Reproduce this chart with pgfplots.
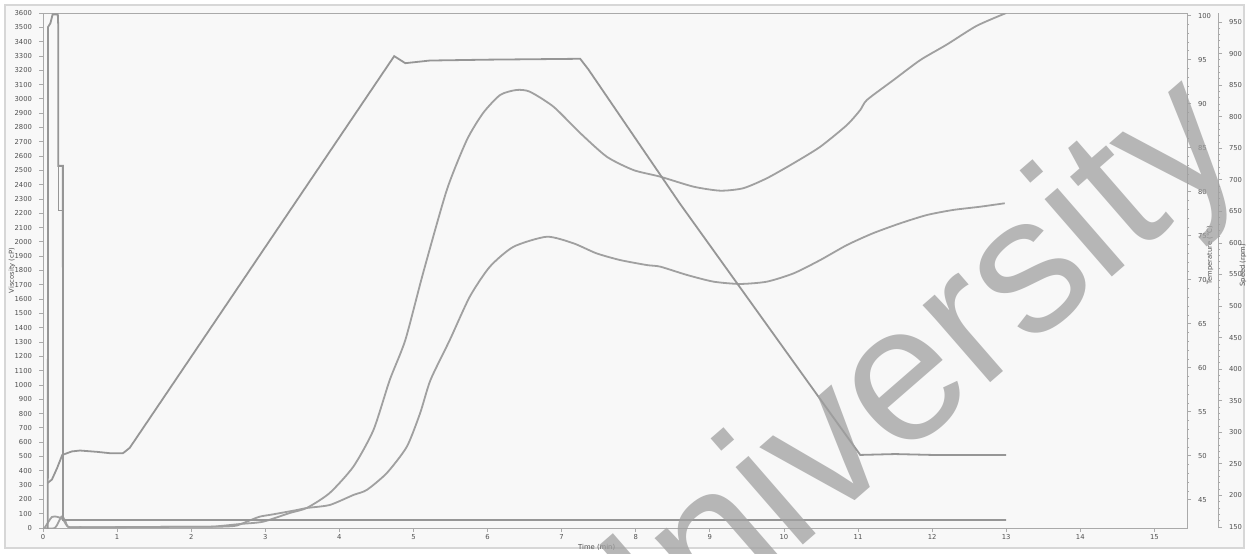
\documentclass[border=0pt]{standalone}
\usepackage{fontspec}
\setmainfont{DejaVu Sans}
\newfontfamily\wmfont{Liberation Sans}
\usepackage{pgfplots}
\pgfplotsset{compat=1.18}
\definecolor{bg}{RGB}{248,248,248}
\definecolor{framec}{RGB}{215,215,215}
\definecolor{axc}{RGB}{170,170,170}
\definecolor{curve}{RGB}{160,160,160}
\definecolor{tcurve}{RGB}{150,150,150}
\definecolor{scurve}{RGB}{150,150,150}
\definecolor{lbl}{RGB}{80,80,80}
\definecolor{wm}{RGB}{160,160,160}
\begin{document}
\begin{tikzpicture}[x=1pt,y=1pt]
\path[use as bounding box, fill=white] (0,0) rectangle (624.5,276.5);
\draw[framec, fill=bg, line width=0.6pt] (2.5,2.5) rectangle (622,274);
\pgfplotsset{
  common/.style={
    at={(21.5pt,12.5pt)}, anchor=south west, scale only axis,
    width=572pt, height=257.5pt,
    xmin=0, xmax=15.44,
    tick label style={font=\fontsize{3.4}{4}\selectfont, text=lbl},
    label style={font=\fontsize{3.4}{4}\selectfont, text=lbl},
    /pgf/number format/assume math mode=true,
    /pgf/number format/1000 sep={},
    scaled ticks=false,
    tick align=outside, major tick length=2pt, minor tick length=1pt,
    tick style={axc, line width=0.4pt},
    axis line style={axc, line width=0.5pt},
    clip=true,
  }
}
% main viscosity axis
\begin{axis}[common, ymin=0, ymax=3600, ytick={0,100,...,3600},
  xtick={0,...,15}, xtick pos=left, ytick pos=left,
  xticklabel style={yshift=2.5pt},
  xlabel={Time (min)}, ylabel={Viscosity (cP)},
  xlabel style={at={(axis description cs:0.484,0)}, anchor=center, yshift=-9.5pt},
  ylabel style={at={(axis description cs:0,0.5)}, anchor=center, yshift=15.5pt}]
\addplot[curve, line width=0.9pt, smooth, tension=0.4] coordinates {
(0.0,0) (0.16,0) (0.25,80) (0.3,50) (0.34,8) (0.5,6) (1.0,6) (2.0,9) (2.3,10)
(2.66,28) (2.97,44) (3.33,105) (3.56,140) (3.87,245) (4.19,430) (4.46,685)
(4.68,1035) (4.89,1314) (5.13,1782) (5.45,2363) (5.72,2712) (5.94,2901)
(6.17,3027) (6.39,3062) (6.57,3050) (6.89,2945) (7.25,2761) (7.61,2595)
(7.97,2502) (8.33,2456) (8.78,2386) (9.14,2358) (9.45,2375) (9.77,2445)
(10.13,2550) (10.49,2665) (10.85,2817) (11.03,2922) (11.12,2992) (11.48,3132)
(11.84,3271) (12.2,3380) (12.6,3510) (13.0,3600)};
\addplot[curve, line width=0.9pt, smooth, tension=0.4] coordinates {
(0.0,0) (0.02,0) (0.12,77) (0.2,77) (0.27,60) (0.34,8) (0.5,6) (1.0,6) (2.0,9)
(2.45,10) (2.62,18) (2.8,55) (2.93,80) (3.1,95) (3.43,126) (3.56,140) (3.87,161)
(4.19,231) (4.37,266) (4.64,384) (4.91,568) (5.09,803) (5.23,1035) (5.49,1314)
(5.76,1617) (6.03,1826) (6.35,1966) (6.8,2036) (7.16,1990) (7.47,1920)
(7.79,1873) (8.15,1838) (8.33,1827) (8.69,1769) (9.05,1722) (9.41,1706)
(9.77,1722) (10.13,1780) (10.49,1873) (10.85,1978) (11.2,2060) (11.57,2130)
(11.93,2188) (12.28,2223) (12.65,2246) (12.98,2270)};
\end{axis}
% temperature axis
\begin{axis}[common, hide x axis, axis y line*=right,
  ymin=41.8, ymax=100.3, ytick={45,50,...,100}, minor y tick num=4,
  ylabel={Temperature (°C)},
  ylabel style={at={(axis description cs:1,0.53)}, anchor=center, yshift=-11.5pt}]
\addplot[tcurve, line width=0.9pt] coordinates {
(0.06,46.9) (0.12,47.3) (0.19,48.6) (0.26,50.1) (0.39,50.5) (0.5,50.6)
(0.73,50.45) (0.9,50.3) (1.08,50.3) (1.17,50.9) (4.74,95.4) (4.89,94.6)
(5.22,94.9) (6.0,95.0) (7.25,95.1) (7.36,93.9) (8.6,78.6) (11.03,50.1)
(11.5,50.2) (12.0,50.1) (13.0,50.1)};
\end{axis}
% speed data
\begin{axis}[common, hide axis, ymin=148.4, ymax=964.2]
\addplot[scurve, line width=0.9pt] coordinates {
(0.065,100) (0.068,942) (0.1,948) (0.13,962) (0.2,962) (0.207,940)
(0.207,722) (0.268,722) (0.27,161) (13.0,161)};
\addplot[scurve, line width=0.7pt] coordinates {
(0.207,722) (0.207,651) (0.262,651) (0.262,722)};
\end{axis}
% speed axis display
\begin{axis}[common, at={(37pt,12.5pt)}, hide x axis, axis y line*=right,
  ymin=148.4, ymax=964.2, ytick={150,200,...,950}, minor y tick num=4,
  ylabel={Speed (rpm)},
  ylabel style={at={(axis description cs:1,0.51)}, anchor=center, yshift=-12.5pt}]
\addplot[draw=none] coordinates {(1,500)};
\end{axis}
\begin{scope}
\clip (0,0) rectangle (624.5,276.5);
\node[rotate=41, anchor=base, text=wm, opacity=0.75,
  font=\wmfont\fontsize{97}{97}\selectfont] at (464,58) {University};
\end{scope}
\end{tikzpicture}
\end{document}
